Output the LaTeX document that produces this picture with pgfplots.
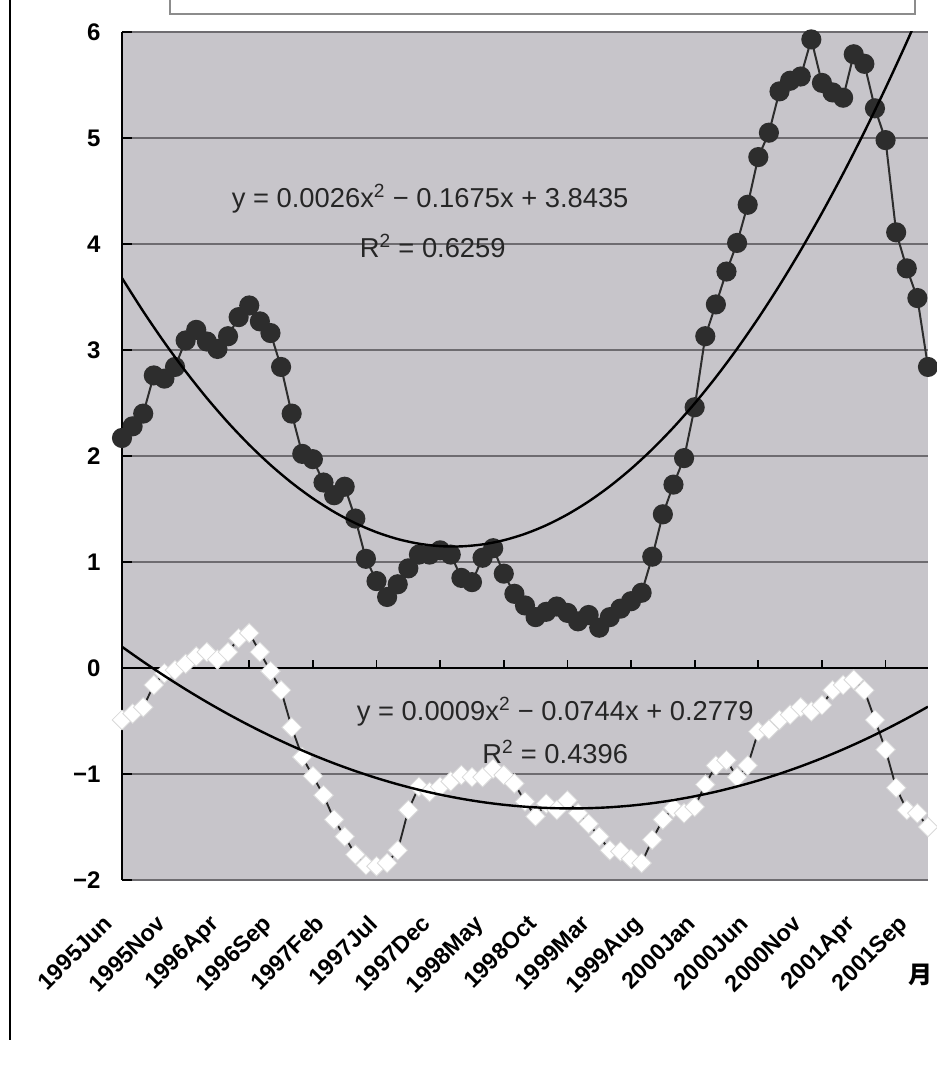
\documentclass[border=0pt]{standalone}
\usepackage{fontspec}
\setmainfont{Liberation Sans}
\newfontfamily\cjk{Noto Sans CJK SC}
\usepackage{pgfplots}
\pgfplotsset{compat=1.18}
\definecolor{plotbg}{RGB}{199,197,202}
\definecolor{gridc}{RGB}{110,108,112}
\definecolor{dotc}{RGB}{45,45,45}
\definecolor{legc}{RGB}{140,140,140}
\begin{document}
\begin{tikzpicture}
\useasboundingbox (0,0) rectangle (702.75pt,798.75pt);
% frame remnants
\draw[legc, line width=1.3pt] (127.5pt,812pt) -- (127.5pt,788.25pt) -- (686.25pt,788.25pt) -- (686.25pt,812pt);
\draw[black, line width=0.8pt] (7.5pt,800pt) -- (7.5pt,18.75pt);
\begin{axis}[
  at={(91.5pt,138.75pt)}, anchor=south west,
  scale only axis, width=604.5pt, height=636pt,
  xmin=0, xmax=76, ymin=-2, ymax=6,
  axis background/.style={fill=plotbg},
  axis x line*=bottom, axis y line*=left,
  x axis line style={draw=none},
  y axis line style={black, line width=1.5pt, -},
  xtick={0,5,...,75},
  xticklabels={1995Jun,1995Nov,1996Apr,1996Sep,1997Feb,1997Jul,1997Dec,1998May,1998Oct,1999Mar,1999Aug,2000Jan,2000Jun,2000Nov,2001Apr,2001Sep},
  xtick style={draw=none},
  xticklabel style={font=\bfseries\fontsize{17.5}{17.5}\selectfont, xshift=-15pt, yshift=-25pt, rotate=45, anchor=north east, inner sep=0pt},
  ytick={-2,-1,0,1,2,3,4,5,6},
  yticklabels={−2,−1,0,1,2,3,4,5,6},
  ytick align=inside,
  major tick length=7.5pt,
  ytick style={black, line width=1.5pt},
  yticklabel style={font=\bfseries\fontsize{18}{18}\selectfont, anchor=east, inner sep=0pt, xshift=-16pt},
  ymajorgrids,
  grid style={gridc, line width=1.2pt},
  clip mode=individual,
]
% zero axis line with tick marks
\draw[black, line width=1.6pt] (axis cs:0,0) -- (axis cs:76,0);
\pgfplotsinvokeforeach{6,12,18,24,30,36,42,48,54,60,66,72}{
  \draw[black, line width=1.3pt] (axis cs:#1,0) -- ++(0pt,6pt);
}
% dark series
\addplot[color=dotc, line width=1.5pt, mark=*, mark size=6.8pt, mark options={fill=dotc, draw=dotc}] coordinates {
(0,2.17)(1,2.28)(2,2.40)(3,2.76)(4,2.73)(5,2.84)(6,3.09)(7,3.19)(8,3.08)(9,3.01)
(10,3.13)(11,3.31)(12,3.42)(13,3.27)(14,3.16)(15,2.84)(16,2.40)(17,2.02)(18,1.97)(19,1.75)
(20,1.63)(21,1.71)(22,1.41)(23,1.03)(24,0.82)(25,0.67)(26,0.79)(27,0.94)(28,1.07)(29,1.07)
(30,1.11)(31,1.07)(32,0.85)(33,0.81)(34,1.04)(35,1.13)(36,0.89)(37,0.70)(38,0.59)(39,0.48)
(40,0.53)(41,0.58)(42,0.52)(43,0.44)(44,0.50)(45,0.38)(46,0.48)(47,0.56)(48,0.63)(49,0.71)
(50,1.05)(51,1.45)(52,1.73)(53,1.98)(54,2.46)(55,3.13)(56,3.43)(57,3.74)(58,4.01)(59,4.37)
(60,4.82)(61,5.05)(62,5.44)(63,5.54)(64,5.58)(65,5.93)(66,5.52)(67,5.43)(68,5.38)(69,5.79)
(70,5.70)(71,5.28)(72,4.98)(73,4.11)(74,3.77)(75,3.49)(76,2.84)
};
% white series
\addplot[color=black!85, line width=1.4pt, mark=square*, mark size=5.2pt, mark options={rotate=45, fill=white, draw=black!15, line width=0.6pt}] coordinates {
(0,-0.49)(1,-0.43)(2,-0.37)(3,-0.16)(4,-0.05)(5,-0.02)(6,0.04)(7,0.11)(8,0.15)(9,0.08)
(10,0.15)(11,0.28)(12,0.33)(13,0.15)(14,-0.03)(15,-0.21)(16,-0.56)(17,-0.84)(18,-1.02)(19,-1.20)
(20,-1.43)(21,-1.59)(22,-1.76)(23,-1.86)(24,-1.87)(25,-1.84)(26,-1.72)(27,-1.34)(28,-1.12)(29,-1.17)
(30,-1.12)(31,-1.07)(32,-1.01)(33,-1.03)(34,-1.03)(35,-0.95)(36,-1.01)(37,-1.09)(38,-1.26)(39,-1.40)
(40,-1.28)(41,-1.34)(42,-1.25)(43,-1.37)(44,-1.47)(45,-1.59)(46,-1.72)(47,-1.73)(48,-1.80)(49,-1.84)
(50,-1.62)(51,-1.43)(52,-1.32)(53,-1.37)(54,-1.31)(55,-1.10)(56,-0.92)(57,-0.87)(58,-1.03)(59,-0.92)
(60,-0.60)(61,-0.58)(62,-0.49)(63,-0.44)(64,-0.37)(65,-0.41)(66,-0.35)(67,-0.21)(68,-0.16)(69,-0.11)
(70,-0.21)(71,-0.49)(72,-0.77)(73,-1.13)(74,-1.34)(75,-1.37)(76,-1.50)
};
% trend lines
\addplot[black, line width=1.8pt, smooth, no marks] coordinates {
(0,3.6786)(2,3.3644)(4,3.071)(6,2.7984)(8,2.5466)(10,2.3156)(12,2.1054)(14,1.916)(16,1.7474)(18,1.5996)
(20,1.4726)(22,1.3664)(24,1.281)(26,1.2164)(28,1.1726)(30,1.1496)(32,1.1474)(34,1.166)(36,1.2054)(38,1.2656)
(40,1.3466)(42,1.4484)(44,1.571)(46,1.7144)(48,1.8786)(50,2.0636)(52,2.2694)(54,2.496)(56,2.7434)(58,3.0116)
(60,3.3006)(62,3.6104)(64,3.941)(66,4.2924)(68,4.6646)(70,5.0576)(72,5.4714)(74,5.906)(76,6.3614)
};
\addplot[black, line width=1.8pt, smooth, no marks] coordinates {
(0,0.2)(2,0.0595)(4,-0.0742)(6,-0.2012)(8,-0.3214)(10,-0.4347)(12,-0.5412)(14,-0.641)(16,-0.7341)(18,-0.8202)
(20,-0.8996)(22,-0.9722)(24,-1.038)(26,-1.0971)(28,-1.1493)(30,-1.1947)(32,-1.2333)(34,-1.2652)(36,-1.2903)(38,-1.3085)
(40,-1.32)(42,-1.3247)(44,-1.3225)(46,-1.3137)(48,-1.298)(50,-1.2755)(52,-1.2462)(54,-1.2101)(56,-1.1673)(58,-1.1176)
(60,-1.0612)(62,-0.9979)(64,-0.9279)(66,-0.8512)(68,-0.7675)(70,-0.6771)(72,-0.5799)(74,-0.4759)(76,-0.3652)
};
\node[font=\fontsize{20.5}{20.5}\selectfont, text=black!85] at (axis cs:29.06,4.43) {y = 0.0026x\textsuperscript{2} − 0.1675x + 3.8435};
\node[font=\fontsize{20.5}{20.5}\selectfont, text=black!85] at (axis cs:29.3,3.98) {R\textsuperscript{2} = 0.6259};
\node[font=\fontsize{20.5}{20.5}\selectfont, text=black!85] at (axis cs:40.85,-0.41) {y = 0.0009x\textsuperscript{2} − 0.0744x + 0.2779};
\node[font=\fontsize{20.5}{20.5}\selectfont, text=black!85] at (axis cs:40.85,-0.79) {R\textsuperscript{2} = 0.4396};
\end{axis}
\node[font=\cjk\bfseries\fontsize{18}{18}\selectfont] at (690pt,67.5pt) {月};
\end{tikzpicture}
\end{document}
